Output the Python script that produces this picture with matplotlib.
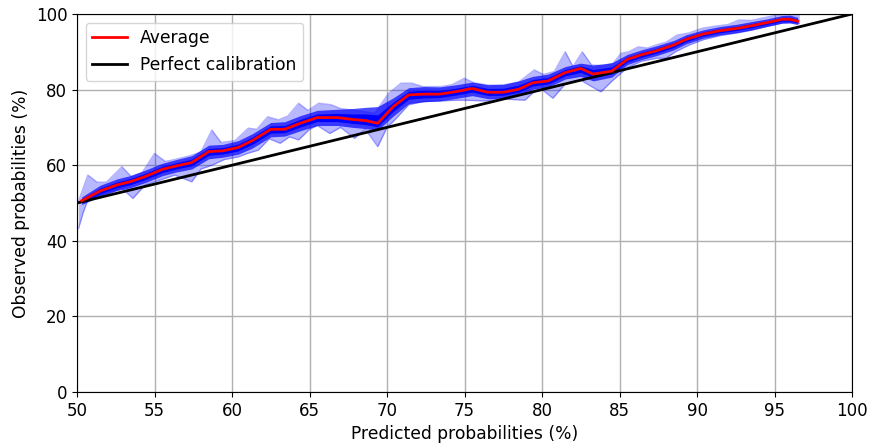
import matplotlib
matplotlib.use("Agg")
import matplotlib.pyplot as plt
import numpy as np

# Average calibration curve
avg_x = [50.3, 51.5, 52.6, 53.4, 54.4, 55.5, 56.4, 57.4, 58.5, 59.4, 60.4, 61.3,
         62.5, 63.4, 64.4, 65.5, 66.8, 67.8, 68.6, 69.4, 70.4, 71.4, 72.4, 73.4,
         74.5, 75.5, 76.5, 77.5, 78.5, 79.4, 80.4, 81.5, 82.5, 83.3, 84.5, 85.5,
         86.4, 87.4, 88.5, 89.3, 90.4, 91.5, 92.6, 93.4, 94.5, 95.5, 96.0, 96.5]
avg_y = [50.6, 53.2, 54.8, 55.6, 57.0, 58.9, 59.8, 60.7, 63.6, 63.8, 64.7, 66.5,
         69.5, 69.5, 71.1, 72.6, 72.6, 72.1, 71.8, 71.1, 75.5, 78.6, 78.8, 78.8,
         79.5, 80.3, 79.3, 79.3, 80.1, 81.8, 82.3, 84.5, 85.6, 84.1, 84.9, 88.0,
         89.2, 90.3, 91.8, 93.3, 94.7, 95.6, 96.2, 96.8, 97.7, 98.6, 98.6, 98.1]

# Dense core of the bootstrap curves (same x as average)
core_lo = [49.6, 51.7, 53.3, 54.0, 55.4, 57.2, 58.2, 59.0, 61.7, 62.1, 62.9, 64.5,
           67.5, 67.7, 69.1, 70.5, 70.5, 70.0, 69.7, 69.3, 73.0, 76.3, 76.8, 77.0,
           77.7, 78.4, 77.6, 77.7, 78.5, 80.1, 80.7, 82.8, 83.5, 82.3, 83.3, 86.6,
           87.9, 89.0, 90.5, 92.1, 93.6, 94.5, 95.1, 95.7, 96.7, 97.6, 97.6, 97.2]
core_hi = [51.6, 54.7, 56.4, 57.2, 58.7, 60.5, 61.5, 62.5, 65.3, 65.5, 66.5, 68.3,
           71.3, 71.5, 73.1, 74.5, 74.8, 75.0, 75.3, 75.5, 77.8, 80.5, 80.8, 80.7,
           81.3, 82.0, 81.3, 81.4, 82.3, 83.5, 84.1, 86.1, 87.0, 86.5, 87.1, 89.3,
           90.5, 91.6, 93.0, 94.5, 95.8, 96.7, 97.3, 97.9, 98.7, 99.6, 99.7, 99.1]

# Outer envelope (extreme bootstrap curves)
up_x = [50.1, 50.7, 51.3, 51.9, 52.9, 53.5, 54.2, 55.0, 55.7, 56.3, 57.3, 58.0,
        58.7, 59.3, 60.2, 61.05, 61.6, 62.3, 63.0, 63.6, 64.3, 64.9, 65.6, 66.4,
        67.0, 67.7, 68.5, 69.2, 70.1, 70.9, 71.6, 72.3, 73.5, 74.2, 75.0, 75.6,
        76.5, 77.5, 78.5, 79.5, 80.1, 80.8, 81.5, 82.0, 82.6, 83.2, 84.0, 84.6,
        85.1, 85.6, 86.2, 86.8, 87.5, 88.0, 88.7, 89.5, 90.3, 91.2, 92.0, 92.7,
        93.5, 94.3, 95.0, 95.5, 96.0, 96.6]
up_y = [50.5, 57.4, 55.5, 55.5, 59.6, 57.0, 58.0, 63.1, 61.0, 61.5, 62.5, 63.5,
        69.3, 66.0, 66.5, 69.8, 69.5, 72.8, 72.0, 73.0, 76.4, 74.5, 76.4, 76.0,
        75.0, 74.6, 74.2, 73.7, 79.0, 81.7, 81.7, 80.8, 80.8, 81.3, 83.0, 81.8,
        81.2, 81.2, 82.0, 85.2, 84.0, 84.8, 90.0, 86.1, 90.0, 86.5, 86.3, 87.0,
        89.6, 90.0, 91.3, 91.0, 92.0, 92.5, 94.4, 95.0, 96.2, 96.8, 97.2, 98.4,
        98.3, 99.0, 99.6, 100.0, 100.2, 100.3]
lo_x = [50.1, 50.4, 50.7, 51.9, 52.9, 53.6, 54.4, 55.0, 56.3, 57.4, 58.0, 58.7,
        59.5, 60.4, 61.05, 61.7, 62.4, 63.1, 63.7, 64.3, 65.0, 65.5, 66.3, 67.0,
        67.9, 68.6, 69.4, 70.0, 70.5, 71.4, 72.3, 73.5, 74.5, 75.0, 76.3, 77.5,
        78.9, 79.5, 80.0, 80.7, 81.5, 82.5, 83.1, 83.8, 84.5, 85.5, 86.4, 87.4,
        88.0, 88.6, 89.5, 90.4, 91.5, 92.6, 93.5, 94.5, 95.5, 96.0, 96.6]
lo_y = [43.3, 47.5, 50.8, 52.6, 53.9, 51.2, 54.8, 55.6, 57.4, 55.6, 59.0, 60.0,
        61.5, 62.2, 63.2, 64.0, 67.0, 65.8, 67.5, 66.7, 69.5, 70.5, 68.4, 70.0,
        67.1, 69.5, 64.9, 70.0, 72.0, 76.0, 76.8, 77.0, 77.2, 77.2, 77.0, 77.5,
        77.2, 79.5, 80.0, 77.7, 81.5, 82.5, 81.0, 79.4, 82.2, 85.8, 87.5, 88.3,
        88.3, 90.0, 91.8, 93.2, 94.3, 95.0, 95.7, 96.7, 97.6, 97.8, 97.5]

diag = [50, 100]

fig = plt.figure(figsize=(8.72, 4.48), dpi=100)
ax = fig.add_axes([77 / 872, 56 / 448, 775 / 872, 378 / 448])

gx = np.union1d(up_x, lo_x)
ax.fill_between(gx, np.interp(gx, lo_x, lo_y), np.interp(gx, up_x, up_y),
                color=(0, 0, 1), alpha=0.28, linewidth=0)
ax.plot(up_x, up_y, color=(0, 0, 1), alpha=0.3, linewidth=1)
ax.plot(lo_x, lo_y, color=(0, 0, 1), alpha=0.3, linewidth=1)
ax.fill_between(avg_x, core_lo, core_hi, color=(0, 0, 1), alpha=0.7, linewidth=0)
ax.fill_between(avg_x, [(a + b) / 2 for a, b in zip(core_lo, avg_y)],
                [(a + b) / 2 for a, b in zip(core_hi, avg_y)],
                color=(0, 0, 1), alpha=1.0, linewidth=0)

ax.plot(avg_x, avg_y, color='red', linewidth=2, label='Average', zorder=5)
ax.plot(diag, diag, color='black', linewidth=2, label='Perfect calibration', zorder=4)

ax.set_xlim(50, 100)
ax.set_ylim(0, 100)
ax.set_xticks(np.arange(50, 101, 5))
ax.set_yticks(np.arange(0, 101, 20))
ax.grid(True, color='#b0b0b0', linewidth=1)
ax.set_axisbelow(True)
ax.tick_params(labelsize=12)
ax.set_xlabel('Predicted probabilities (%)', fontsize=12.3)
ax.set_ylabel('Observed probabilities (%)', fontsize=12.3)
ax.legend(loc='upper left', fontsize=12.3)

fig.savefig('out.png', dpi=100)
